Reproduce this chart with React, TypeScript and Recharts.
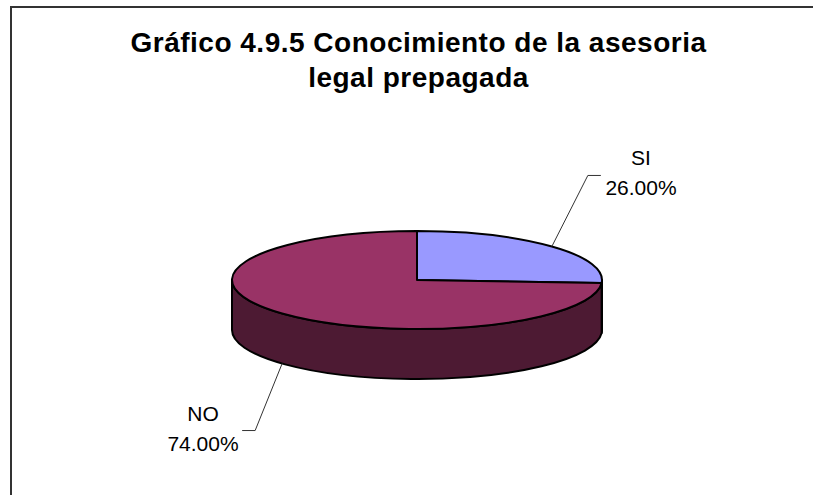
import { PieChart, Pie, Cell } from 'recharts';

const categories = ['SI', 'NO'];
const shares = [26, 74];
const topColors = ['#9999FF', '#993366'];
const rimColors = ['#4D1A33', '#4D1A33'];
const titleLines = ['Gráfico 4.9.5 Conocimiento de la asesoria', 'legal prepagada'];

const data = categories.map((name, i) => ({ name, value: shares[i] }));

// the pie is drawn flattened, so radius on y is a fraction of the library's radius
const FLATTEN = 49 / 185;
const DEPTH = 50;
const RAD = Math.PI / 180;

function pointAt(cx: number, cy: number, r: number, deg: number) {
  return { x: cx + r * Math.cos(deg * RAD), y: cy - r * FLATTEN * Math.sin(deg * RAD) };
}

function TopSlice(props: any) {
  const { cx, cy, outerRadius: r, startAngle, endAngle, fill } = props;
  const a = pointAt(cx, cy, r, startAngle);
  const b = pointAt(cx, cy, r, endAngle);
  const large = Math.abs(endAngle - startAngle) > 180 ? 1 : 0;
  const sweep = startAngle > endAngle ? 1 : 0;
  const d = `M${cx},${cy} L${a.x},${a.y} A${r},${r * FLATTEN} 0 ${large} ${sweep} ${b.x},${b.y} Z`;
  return <path d={d} fill={fill} stroke="#000" strokeWidth={2} strokeLinejoin="round" />;
}

// side wall: only the part of the slice on the front half of the ellipse shows
function RimSlice(props: any) {
  const { cx, cy, outerRadius: r, startAngle, endAngle, fill } = props;
  const norm = (v: number) => (v > 0 ? v - 360 : v);
  const hi = Math.min(startAngle <= 0 ? startAngle : 0, 0);
  const lo = Math.max(norm(endAngle) === 0 ? -360 : endAngle, -180);
  if (hi <= lo) return <g />;
  const a = pointAt(cx, cy, r, hi);
  const b = pointAt(cx, cy, r, lo);
  const ry = r * FLATTEN;
  const d =
    `M${a.x},${a.y} A${r},${ry} 0 0 1 ${b.x},${b.y} ` +
    `L${b.x},${b.y + DEPTH} A${r},${ry} 0 0 0 ${a.x},${a.y + DEPTH} Z`;
  return <path d={d} fill={fill} stroke="#000" strokeWidth={2} strokeLinejoin="round" />;
}

function SliceLabel(props: any) {
  const { cx, cy, outerRadius: r, midAngle, index, name, value } = props;
  const start = pointAt(cx, cy, r, midAngle);
  const isFront = midAngle < 0 || midAngle > 180;
  const y0 = start.y + (isFront ? DEPTH : 0);
  const right = start.x > cx;
  const elbow = right ? { x: start.x + 36, y: y0 - 71 } : { x: start.x - 27, y: y0 + 67 };
  const end = { x: elbow.x + (right ? 13 : -13), y: elbow.y };
  const textX = right ? 641 : 203;
  const nameY = right ? 165 : 421;
  return (
    <g key={index}>
      <polyline
        points={`${start.x},${y0} ${elbow.x},${elbow.y} ${end.x},${end.y}`}
        fill="none"
        stroke="#333"
        strokeWidth={1}
      />
      <text x={textX} y={nameY} textAnchor="middle" fontSize={21} fill="#000" fontFamily="Liberation Sans">
        {name}
      </text>
      <text x={textX} y={nameY + 30} textAnchor="middle" fontSize={21} fill="#000" fontFamily="Liberation Sans">
        {value.toFixed(2)}%
      </text>
    </g>
  );
}

export default function App() {
  return (
    <div style={{ position: 'fixed', left: 0, top: 0, width: 813, height: 495, background: '#fff', overflow: 'hidden' }}>
      <div style={{ position: 'absolute', left: 10, top: 6, width: 900, height: 600, borderLeft: '2px solid #333', borderTop: '2px solid #333' }} />
      <div
        style={{
          position: 'absolute',
          left: 0,
          top: 25,
          width: 837,
          textAlign: 'center',
          fontFamily: 'Liberation Sans',
          fontWeight: 700,
          fontSize: 28,
          letterSpacing: 0.5,
          lineHeight: '35px',
          color: '#000',
        }}
      >
        {titleLines.map((t) => (
          <div key={t}>{t}</div>
        ))}
      </div>
      <div style={{ position: 'absolute', left: 0, top: 0 }}>
        <PieChart width={813} height={495} margin={{ top: 0, right: 0, bottom: 0, left: 0 }}>
          <Pie
            data={data}
            dataKey="value"
            cx={417}
            cy={280}
            outerRadius={185}
            startAngle={90}
            endAngle={-270}
            stroke="none"
            isAnimationActive={false}
            shape={RimSlice}
            legendType="none"
          >
            {data.map((d, i) => (
              <Cell key={d.name} fill={rimColors[i]} />
            ))}
          </Pie>
          <Pie
            data={data}
            dataKey="value"
            cx={417}
            cy={280}
            outerRadius={185}
            startAngle={90}
            endAngle={-270}
            stroke="none"
            isAnimationActive={false}
            shape={TopSlice}
            label={SliceLabel}
            labelLine={false}
          >
            {data.map((d, i) => (
              <Cell key={d.name} fill={topColors[i]} />
            ))}
          </Pie>
        </PieChart>
      </div>
    </div>
  );
}
